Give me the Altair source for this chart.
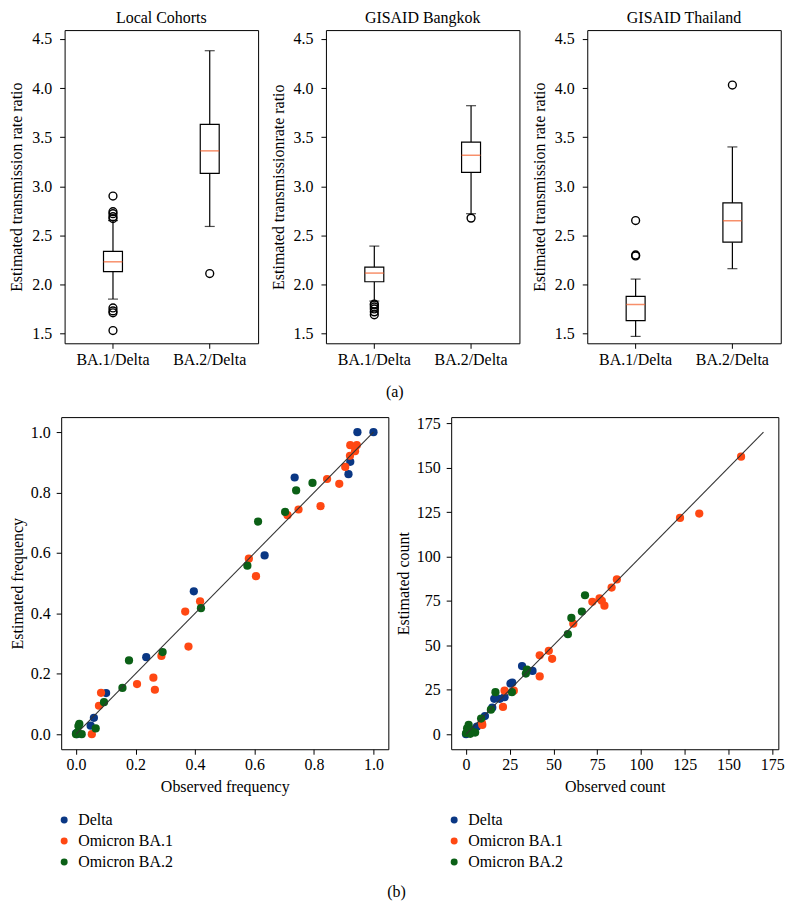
import altair as alt
import pandas as pd

FONT = "Liberation Serif"

# ---------------- (a) box plots ----------------
panel_titles = ["Local Cohorts", "GISAID Bangkok", "GISAID Thailand"]
y_titles = ["Estimated transmission rate ratio",
            "Estimated transmissionrate ratio",
            "Estimated transmission rate ratio"]
groups = ["BA.1/Delta", "BA.2/Delta"]

# per panel: [BA.1/Delta, BA.2/Delta]
whisker_low = [[1.85, 2.59], [1.83, 2.72], [1.47, 2.16]]
quart1 = [[2.13, 3.13], [2.027, 3.14], [1.63, 2.43]]
medians = [[2.23, 3.36], [2.115, 3.315], [1.795, 2.648]]
quart3 = [[2.336, 3.63], [2.175, 3.448], [1.878, 2.83]]
whisker_high = [[2.65, 4.38], [2.39, 3.82], [2.054, 3.40]]
outliers = [
    [[2.90, 2.74, 2.72, 2.69, 2.67, 1.76, 1.73, 1.71, 1.53], [2.11]],
    [[1.80, 1.79, 1.77, 1.75, 1.72, 1.69], [2.675]],
    [[2.65, 2.30, 2.29], [4.03]],
]
box_y_ticks = [1.5, 2.0, 2.5, 3.0, 3.5, 4.0, 4.5]
box_y_domain = [1.40, 4.59]

# ---------------- (b) scatter plots ----------------
variants = ["Delta", "Omicron BA.1", "Omicron BA.2"]
variant_colors = ["#0a3784", "#ff4813", "#0b6016"]

freq_obs_delta = [1.0, 0.946, 0.922, 0.916, 0.735, 0.634, 0.396, 0.236, 0.101, 0.060, 0.049, 0.0, 0.003]
freq_est_delta = [1.0, 1.0, 0.902, 0.861, 0.850, 0.592, 0.473, 0.255, 0.136, 0.054, 0.028, 0.003, 0.0]
freq_obs_ba1 = [0.922, 0.944, 0.938, 0.921, 0.905, 0.885, 0.844, 0.822, 0.748, 0.711, 0.581, 0.605,
                0.417, 0.367, 0.378, 0.287, 0.260, 0.265, 0.205, 0.084, 0.077, 0.053]
freq_est_ba1 = [0.957, 0.957, 0.937, 0.922, 0.885, 0.829, 0.845, 0.755, 0.744, 0.725, 0.581, 0.523,
                0.440, 0.406, 0.290, 0.259, 0.187, 0.147, 0.166, 0.137, 0.094, 0.0]
freq_obs_ba2 = [0.795, 0.740, 0.703, 0.612, 0.576, 0.420, 0.291, 0.178, 0.156, 0.094, 0.066, 0.011,
                0.008, 0.0, 0.019, 0.004]
freq_est_ba2 = [0.832, 0.807, 0.736, 0.704, 0.558, 0.417, 0.272, 0.244, 0.153, 0.106, 0.019, 0.034,
                0.027, 0.0, 0.0, 0.005]

count_obs_delta = [32.0, 38.0, 25.4, 26.4, 22.0, 19.3, 16.1, 15.0, 10.8, 6.2, 0.0, 2.0, 4.0]
count_est_delta = [38.3, 35.6, 28.5, 29.0, 20.8, 19.9, 19.9, 14.9, 10.2, 4.2, 0.0, 1.0, 2.5]
count_obs_ba1 = [157.2, 122.3, 133.3, 86.2, 83.2, 76.3, 72.2, 77.6, 79.1, 61.3, 47.3, 42.1, 49.2,
                 42.1, 27.3, 22.0, 21.1, 9.3, 9.0]
count_est_ba1 = [156.2, 121.7, 124.2, 87.1, 82.5, 76.4, 74.5, 75.1, 72.3, 62.2, 46.9, 44.4, 42.4,
                 32.5, 24.5, 24.5, 15.3, 5.2, 6.5]
count_obs_ba2 = [68.0, 60.2, 66.2, 58.2, 34.8, 34.2, 26.2, 16.8, 14.2, 8.6, 1.5, 0.6, 3.4, 5.2,
                 0.0, 2.4, 1.0]
count_est_ba2 = [78.2, 65.4, 69.0, 56.3, 36.4, 34.1, 23.6, 23.6, 13.8, 8.8, 5.2, 3.3, 1.5, 0.9,
                 0.5, 0.2, 2.0]

freq_ticks = [0.0, 0.2, 0.4, 0.6, 0.8, 1.0]
freq_domain = [-0.05, 1.05]
freq_line = [0.0, 1.0]
count_ticks = [0, 25, 50, 75, 100, 125, 150, 175]
count_domain = [-8.5, 178.5]
count_line = [0.0, 170.0]

MEDIAN_COLOR = "#f4602b"


def box_panel(i):
    stats = pd.DataFrame({
        "group": groups, "lo": whisker_low[i], "q1": quart1[i], "med": medians[i],
        "q3": quart3[i], "hi": whisker_high[i],
    })
    out = pd.DataFrame([{"group": g, "v": v} for g, vals in zip(groups, outliers[i]) for v in vals])
    xaxis = alt.Axis(title=None, labelAngle=0, labelPadding=3)
    x = alt.X("group:N", sort=groups,
              scale=alt.Scale(domain=groups, paddingInner=0, paddingOuter=0), axis=xaxis)
    yscale = alt.Scale(domain=box_y_domain, nice=False, zero=False)
    yaxis = alt.Axis(values=box_y_ticks, format=".1f", labelPadding=8, titlePadding=7,
                     minExtent=33, maxExtent=33)

    def Y(f):
        return alt.Y(f, scale=yscale, axis=yaxis, title=y_titles[i])

    base = alt.Chart(stats).encode(x=x)
    w_lo = base.mark_rule(color="black", strokeWidth=1.2).encode(y=Y("lo:Q"), y2="q1:Q")
    w_hi = base.mark_rule(color="black", strokeWidth=1.2).encode(y=Y("q3:Q"), y2="hi:Q")
    box = base.mark_bar(size=19, fill="white", stroke="black", strokeWidth=1.2).encode(
        y=Y("q1:Q"), y2="q3:Q")
    med = base.mark_tick(size=19, thickness=1.5, color=MEDIAN_COLOR).encode(y=Y("med:Q"))
    cap_lo = base.mark_tick(size=10, thickness=1.2, color="black").encode(y=Y("lo:Q"))
    cap_hi = base.mark_tick(size=10, thickness=1.2, color="black").encode(y=Y("hi:Q"))
    pts = alt.Chart(out).mark_point(shape="circle", filled=False, size=62, color="black",
                                    strokeWidth=1.4, opacity=1).encode(x=x, y=Y("v:Q"))
    return alt.layer(w_lo, w_hi, box, med, cap_lo, cap_hi, pts).properties(
        width=194, height=314,
        title=alt.TitleParams(panel_titles[i], offset=4, anchor="middle"))


def scatter_panel(obs, est, ticks, domain, line, xtitle, ytitle, fmt, extent):
    rows = []
    for name, o_list, e_list in zip(variants, obs, est):
        for o, e in zip(o_list, e_list):
            rows.append({"variant": name, "obs": o, "est": e})
    df = pd.DataFrame(rows)
    xscale = alt.Scale(domain=domain, nice=False, zero=False)
    yscale = alt.Scale(domain=domain, nice=False, zero=False)
    xaxis = alt.Axis(values=ticks, format=fmt, labelPadding=2, titlePadding=6)
    yaxis = alt.Axis(values=ticks, format=fmt, labelPadding=6, titlePadding=5,
                     minExtent=extent, maxExtent=extent)
    color = alt.Color("variant:N", sort=variants,
                      scale=alt.Scale(domain=variants, range=variant_colors),
                      legend=alt.Legend(title=None, orient="none", legendX=-5, legendY=396,
                                        direction="vertical", symbolType="circle",
                                        symbolSize=49, symbolStrokeWidth=0, labelFontSize=16,
                                        labelFont=FONT, rowPadding=5, labelOffset=6,
                                        padding=0, offset=0))
    pts = alt.Chart(df).mark_circle(size=68, opacity=1).encode(
        x=alt.X("obs:Q", scale=xscale, axis=xaxis, title=xtitle),
        y=alt.Y("est:Q", scale=yscale, axis=yaxis, title=ytitle),
        color=color,
    )
    ln = alt.Chart(pd.DataFrame({"obs": line, "est": line})).mark_line(
        color="#333333", strokeWidth=1.1).encode(
        x=alt.X("obs:Q", scale=xscale, axis=xaxis, title=xtitle),
        y=alt.Y("est:Q", scale=yscale, axis=yaxis, title=ytitle),
    )
    return alt.layer(pts, ln).properties(width=328, height=333)


top = alt.hconcat(box_panel(0), box_panel(1), box_panel(2), spacing=10).properties(
    title=alt.TitleParams("(a)", orient="bottom", anchor="middle", offset=16))

left = scatter_panel([freq_obs_delta, freq_obs_ba1, freq_obs_ba2],
                     [freq_est_delta, freq_est_ba1, freq_est_ba2],
                     freq_ticks, freq_domain, freq_line,
                     "Observed frequency", "Estimated frequency", ".1f", 31)
right = scatter_panel([count_obs_delta, count_obs_ba1, count_obs_ba2],
                      [count_est_delta, count_est_ba1, count_est_ba2],
                      count_ticks, count_domain, count_line,
                      "Observed count", "Estimated count", "d", 35)
bottom = alt.hconcat(left, right, spacing=5).resolve_scale(color="independent").resolve_legend(
    color="independent")

chart = alt.vconcat(top, bottom, spacing=14, center=True).properties(
    title=alt.TitleParams("(b)", orient="bottom", anchor="middle", offset=14),
    padding=0,
    background="white",
).configure_view(
    stroke="black", strokeWidth=1
).configure_axis(
    domain=False, grid=False, tickColor="black", tickSize=5, tickWidth=1,
    labelFont=FONT, labelFontSize=16, labelColor="black",
    titleFont=FONT, titleFontSize=16, titleFontWeight="normal", titleColor="black",
).configure_title(
    font=FONT, fontSize=16, fontWeight="normal", color="black"
).configure_legend(
    labelFont=FONT, labelFontSize=16, labelColor="black"
)

chart.save("out.html", embed_options={"renderer": "svg", "actions": False})
